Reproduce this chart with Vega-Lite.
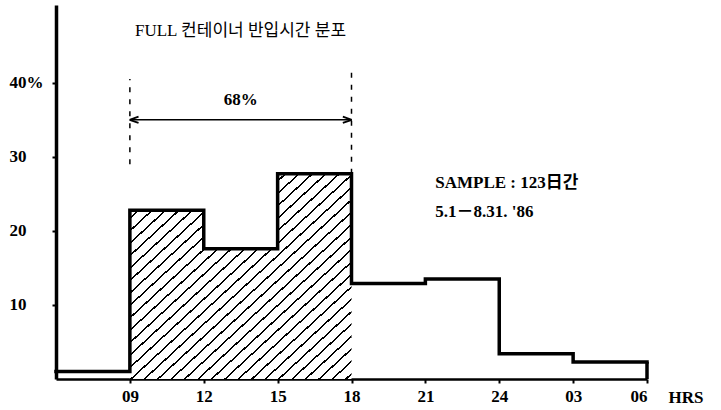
{
  "$schema": "https://vega.github.io/schema/vega-lite/v6.json",
  "autosize": {"type": "none"},
  "padding": {"left": 56, "top": 5, "right": 74, "bottom": 31},
  "width": 591,
  "height": 374,
  "background": "white",
  "title": {
    "text": "FULL 컨테이너 반입시간 분포",
    "anchor": "start",
    "frame": "group",
    "dx": 79,
    "dy": 18,
    "offset": -25,
    "baseline": "middle",
    "font": "'Liberation Serif', 'Noto Sans CJK KR'",
    "fontSize": 17,
    "fontWeight": "normal",
    "color": "black"
  },
  "datasets": {
    "bars": [
      {"start": 6, "end": 9, "pct": 1.0, "hatched": false},
      {"start": 9, "end": 12, "pct": 22.8, "hatched": true},
      {"start": 12, "end": 15, "pct": 17.6, "hatched": true},
      {"start": 15, "end": 18, "pct": 27.7, "hatched": true},
      {"start": 18, "end": 21, "pct": 12.9, "hatched": false},
      {"start": 21, "end": 24, "pct": 13.5, "hatched": false},
      {"start": 24, "end": 27, "pct": 3.4, "hatched": false},
      {"start": 27, "end": 30, "pct": 2.3, "hatched": false}
    ],
    "guides": [
      {"x": 9, "y1": 29, "y2": 40.5},
      {"x": 18, "y1": 27.7, "y2": 41.6}
    ],
    "arrow": [
      {"x": 9, "x2": 18, "y": 35}
    ],
    "heads": [
      {"x": 9.17, "y": 35, "dir": "left"},
      {"x": 17.83, "y": 35, "dir": "right"}
    ],
    "notes": [
      {"x": 13.5, "y": 37.7, "label": "68%", "kind": "span"},
      {"x": 21.4, "y": 26.4, "label": "SAMPLE : 123日간", "kind": "sample"},
      {"x": 21.4, "y": 22.5, "label": "5.1－8.31. '86", "kind": "sample"}
    ]
  },
  "layer": [
    {
      "data": {"name": "bars"},
      "transform": [
        {"filter": "datum.hatched"},
        {"aggregate": [
          {"op": "min", "field": "start", "as": "s"},
          {"op": "max", "field": "end", "as": "e"},
          {"op": "max", "field": "pct", "as": "top"}
        ]}
      ],
      "mark": {
        "type": "rect",
        "fill": {
          "gradient": "linear",
          "x1": 0, "y1": 0, "x2": 1, "y2": 1,
          "stops": [
            {"offset": 0.0152, "color": "#ffffff"}, {"offset": 0.0152, "color": "#000000"}, {"offset": 0.0202, "color": "#000000"}, {"offset": 0.0202, "color": "#ffffff"},
            {"offset": 0.0455, "color": "#ffffff"}, {"offset": 0.0455, "color": "#000000"}, {"offset": 0.0505, "color": "#000000"}, {"offset": 0.0505, "color": "#ffffff"},
            {"offset": 0.0758, "color": "#ffffff"}, {"offset": 0.0758, "color": "#000000"}, {"offset": 0.0808, "color": "#000000"}, {"offset": 0.0808, "color": "#ffffff"},
            {"offset": 0.1061, "color": "#ffffff"}, {"offset": 0.1061, "color": "#000000"}, {"offset": 0.1111, "color": "#000000"}, {"offset": 0.1111, "color": "#ffffff"},
            {"offset": 0.1364, "color": "#ffffff"}, {"offset": 0.1364, "color": "#000000"}, {"offset": 0.1414, "color": "#000000"}, {"offset": 0.1414, "color": "#ffffff"},
            {"offset": 0.1667, "color": "#ffffff"}, {"offset": 0.1667, "color": "#000000"}, {"offset": 0.1717, "color": "#000000"}, {"offset": 0.1717, "color": "#ffffff"},
            {"offset": 0.1970, "color": "#ffffff"}, {"offset": 0.1970, "color": "#000000"}, {"offset": 0.2020, "color": "#000000"}, {"offset": 0.2020, "color": "#ffffff"},
            {"offset": 0.2273, "color": "#ffffff"}, {"offset": 0.2273, "color": "#000000"}, {"offset": 0.2323, "color": "#000000"}, {"offset": 0.2323, "color": "#ffffff"},
            {"offset": 0.2576, "color": "#ffffff"}, {"offset": 0.2576, "color": "#000000"}, {"offset": 0.2626, "color": "#000000"}, {"offset": 0.2626, "color": "#ffffff"},
            {"offset": 0.2879, "color": "#ffffff"}, {"offset": 0.2879, "color": "#000000"}, {"offset": 0.2929, "color": "#000000"}, {"offset": 0.2929, "color": "#ffffff"},
            {"offset": 0.3182, "color": "#ffffff"}, {"offset": 0.3182, "color": "#000000"}, {"offset": 0.3232, "color": "#000000"}, {"offset": 0.3232, "color": "#ffffff"},
            {"offset": 0.3485, "color": "#ffffff"}, {"offset": 0.3485, "color": "#000000"}, {"offset": 0.3535, "color": "#000000"}, {"offset": 0.3535, "color": "#ffffff"},
            {"offset": 0.3788, "color": "#ffffff"}, {"offset": 0.3788, "color": "#000000"}, {"offset": 0.3838, "color": "#000000"}, {"offset": 0.3838, "color": "#ffffff"},
            {"offset": 0.4091, "color": "#ffffff"}, {"offset": 0.4091, "color": "#000000"}, {"offset": 0.4141, "color": "#000000"}, {"offset": 0.4141, "color": "#ffffff"},
            {"offset": 0.4394, "color": "#ffffff"}, {"offset": 0.4394, "color": "#000000"}, {"offset": 0.4444, "color": "#000000"}, {"offset": 0.4444, "color": "#ffffff"},
            {"offset": 0.4697, "color": "#ffffff"}, {"offset": 0.4697, "color": "#000000"}, {"offset": 0.4747, "color": "#000000"}, {"offset": 0.4747, "color": "#ffffff"},
            {"offset": 0.5000, "color": "#ffffff"}, {"offset": 0.5000, "color": "#000000"}, {"offset": 0.5050, "color": "#000000"}, {"offset": 0.5050, "color": "#ffffff"},
            {"offset": 0.5303, "color": "#ffffff"}, {"offset": 0.5303, "color": "#000000"}, {"offset": 0.5353, "color": "#000000"}, {"offset": 0.5353, "color": "#ffffff"},
            {"offset": 0.5606, "color": "#ffffff"}, {"offset": 0.5606, "color": "#000000"}, {"offset": 0.5656, "color": "#000000"}, {"offset": 0.5656, "color": "#ffffff"},
            {"offset": 0.5909, "color": "#ffffff"}, {"offset": 0.5909, "color": "#000000"}, {"offset": 0.5959, "color": "#000000"}, {"offset": 0.5959, "color": "#ffffff"},
            {"offset": 0.6212, "color": "#ffffff"}, {"offset": 0.6212, "color": "#000000"}, {"offset": 0.6262, "color": "#000000"}, {"offset": 0.6262, "color": "#ffffff"},
            {"offset": 0.6515, "color": "#ffffff"}, {"offset": 0.6515, "color": "#000000"}, {"offset": 0.6565, "color": "#000000"}, {"offset": 0.6565, "color": "#ffffff"},
            {"offset": 0.6818, "color": "#ffffff"}, {"offset": 0.6818, "color": "#000000"}, {"offset": 0.6868, "color": "#000000"}, {"offset": 0.6868, "color": "#ffffff"},
            {"offset": 0.7121, "color": "#ffffff"}, {"offset": 0.7121, "color": "#000000"}, {"offset": 0.7171, "color": "#000000"}, {"offset": 0.7171, "color": "#ffffff"},
            {"offset": 0.7424, "color": "#ffffff"}, {"offset": 0.7424, "color": "#000000"}, {"offset": 0.7474, "color": "#000000"}, {"offset": 0.7474, "color": "#ffffff"},
            {"offset": 0.7727, "color": "#ffffff"}, {"offset": 0.7727, "color": "#000000"}, {"offset": 0.7777, "color": "#000000"}, {"offset": 0.7777, "color": "#ffffff"},
            {"offset": 0.8030, "color": "#ffffff"}, {"offset": 0.8030, "color": "#000000"}, {"offset": 0.8080, "color": "#000000"}, {"offset": 0.8080, "color": "#ffffff"},
            {"offset": 0.8333, "color": "#ffffff"}, {"offset": 0.8333, "color": "#000000"}, {"offset": 0.8383, "color": "#000000"}, {"offset": 0.8383, "color": "#ffffff"},
            {"offset": 0.8636, "color": "#ffffff"}, {"offset": 0.8636, "color": "#000000"}, {"offset": 0.8686, "color": "#000000"}, {"offset": 0.8686, "color": "#ffffff"},
            {"offset": 0.8939, "color": "#ffffff"}, {"offset": 0.8939, "color": "#000000"}, {"offset": 0.8989, "color": "#000000"}, {"offset": 0.8989, "color": "#ffffff"},
            {"offset": 0.9242, "color": "#ffffff"}, {"offset": 0.9242, "color": "#000000"}, {"offset": 0.9292, "color": "#000000"}, {"offset": 0.9292, "color": "#ffffff"},
            {"offset": 0.9545, "color": "#ffffff"}, {"offset": 0.9545, "color": "#000000"}, {"offset": 0.9595, "color": "#000000"}, {"offset": 0.9595, "color": "#ffffff"},
            {"offset": 0.9848, "color": "#ffffff"}, {"offset": 0.9848, "color": "#000000"}, {"offset": 0.9898, "color": "#000000"}, {"offset": 0.9898, "color": "#ffffff"}
          ]
        },
        "strokeWidth": 0
      },
      "encoding": {
        "x": {
          "field": "s", "type": "quantitative",
          "scale": {"domain": [6, 30], "nice": false, "zero": false},
          "axis": {
            "values": [9, 12, 15, 18, 21, 24, 27, 30],
            "labelExpr": "datum.value == 9 ? '09' : datum.value == 27 ? '03' : datum.value == 30 ? '06' : datum.label",
            "grid": false,
            "domainColor": "black", "domainWidth": 2.5,
            "tickColor": "black", "tickWidth": 2, "tickSize": 4,
            "labelFont": "Liberation Serif", "labelFontSize": 17, "labelFontWeight": "bold", "labelColor": "black",
            "labelPadding": 5,
            "title": "HRS",
            "titleX": 612, "titleY": 18, "titleAlign": "left", "titleBaseline": "middle",
            "titleFont": "Liberation Serif", "titleFontSize": 17, "titleFontWeight": "bold", "titleColor": "black"
          }
        },
        "x2": {"field": "e"},
        "y": {
          "field": "top", "type": "quantitative",
          "scale": {"domain": [0, 50.5], "nice": false, "zero": true},
          "axis": {
            "values": [10, 20, 30, 40],
            "labelExpr": "datum.value == 40 ? '40%' : datum.label",
            "grid": false,
            "domainColor": "black", "domainWidth": 3.5,
            "tickColor": "black", "tickWidth": 2, "tickSize": 4,
            "labelFont": "Liberation Serif", "labelFontSize": 17, "labelFontWeight": "bold", "labelColor": "black",
            "labelAlign": "left", "labelBaseline": "middle", "labelPadding": 43,
            "title": null
          }
        },
        "y2": {"datum": 0}
      }
    },
    {
      "data": {"name": "bars"},
      "transform": [
        {"filter": "datum.hatched"},
        {"joinaggregate": [{"op": "max", "field": "pct", "as": "top"}]}
      ],
      "mark": {"type": "rect", "fill": "white", "stroke": "white", "strokeWidth": 2},
      "encoding": {
        "x": {"field": "start", "type": "quantitative", "title": "HRS"},
        "x2": {"field": "end"},
        "y": {"field": "pct", "type": "quantitative", "title": null},
        "y2": {"field": "top"}
      }
    },
    {
      "data": {"name": "bars"},
      "transform": [
        {"fold": ["start", "end"], "as": ["key", "xv"]}
      ],
      "mark": {"type": "line", "color": "black", "strokeWidth": 3.5, "strokeJoin": "miter", "strokeCap": "square"},
      "encoding": {
        "x": {"field": "xv", "type": "quantitative", "title": "HRS"},
        "y": {"field": "pct", "type": "quantitative", "title": null},
        "order": [{"field": "xv", "type": "quantitative"}, {"field": "key", "type": "nominal"}]
      }
    },
    {
      "data": {"name": "bars"},
      "transform": [
        {"joinaggregate": [{"op": "max", "field": "end", "as": "last"}]},
        {"filter": "datum.end == datum.last"}
      ],
      "mark": {"type": "rule", "color": "black", "strokeWidth": 3.5},
      "encoding": {
        "x": {"field": "end", "type": "quantitative", "title": "HRS"},
        "y": {"field": "pct", "type": "quantitative", "title": null},
        "y2": {"datum": 0}
      }
    },
    {
      "data": {"name": "guides"},
      "mark": {"type": "rule", "color": "black", "strokeWidth": 1.5, "strokeDash": [5, 7]},
      "encoding": {
        "x": {"field": "x", "type": "quantitative", "title": "HRS"},
        "y": {"field": "y1", "type": "quantitative", "title": null},
        "y2": {"field": "y2"}
      }
    },
    {
      "data": {"name": "arrow"},
      "mark": {"type": "rule", "color": "black", "strokeWidth": 1.5},
      "encoding": {
        "x": {"field": "x", "type": "quantitative", "title": "HRS"},
        "x2": {"field": "x2"},
        "y": {"field": "y", "type": "quantitative", "title": null}
      }
    },
    {
      "data": {"name": "heads"},
      "mark": {"type": "point", "filled": false, "color": "black", "strokeWidth": 1.8, "size": 80, "opacity": 1},
      "encoding": {
        "x": {"field": "x", "type": "quantitative", "title": "HRS"},
        "y": {"field": "y", "type": "quantitative", "title": null},
        "shape": {
          "field": "dir", "type": "nominal", "legend": null,
          "scale": {"domain": ["left", "right"], "range": ["M-1,0L1,-0.7M-1,0L1,0.7", "M1,0L-1,-0.7M1,0L-1,0.7"]}
        }
      }
    },
    {
      "data": {"name": "notes"},
      "transform": [{"filter": "datum.kind == 'span'"}],
      "mark": {"type": "text", "align": "center", "baseline": "middle", "font": "Liberation Serif", "fontSize": 17, "fontWeight": "bold", "color": "black"},
      "encoding": {
        "x": {"field": "x", "type": "quantitative", "title": "HRS"},
        "y": {"field": "y", "type": "quantitative", "title": null},
        "text": {"field": "label"}
      }
    },
    {
      "data": {"name": "notes"},
      "transform": [{"filter": "datum.kind == 'sample'"}],
      "mark": {"type": "text", "align": "left", "baseline": "middle", "font": "'Liberation Serif', 'Noto Sans CJK KR'", "fontSize": 17, "fontWeight": "bold", "color": "black"},
      "encoding": {
        "x": {"field": "x", "type": "quantitative", "title": "HRS"},
        "y": {"field": "y", "type": "quantitative", "title": null},
        "text": {"field": "label"}
      }
    }
  ],
  "config": {"view": {"stroke": null}}
}
